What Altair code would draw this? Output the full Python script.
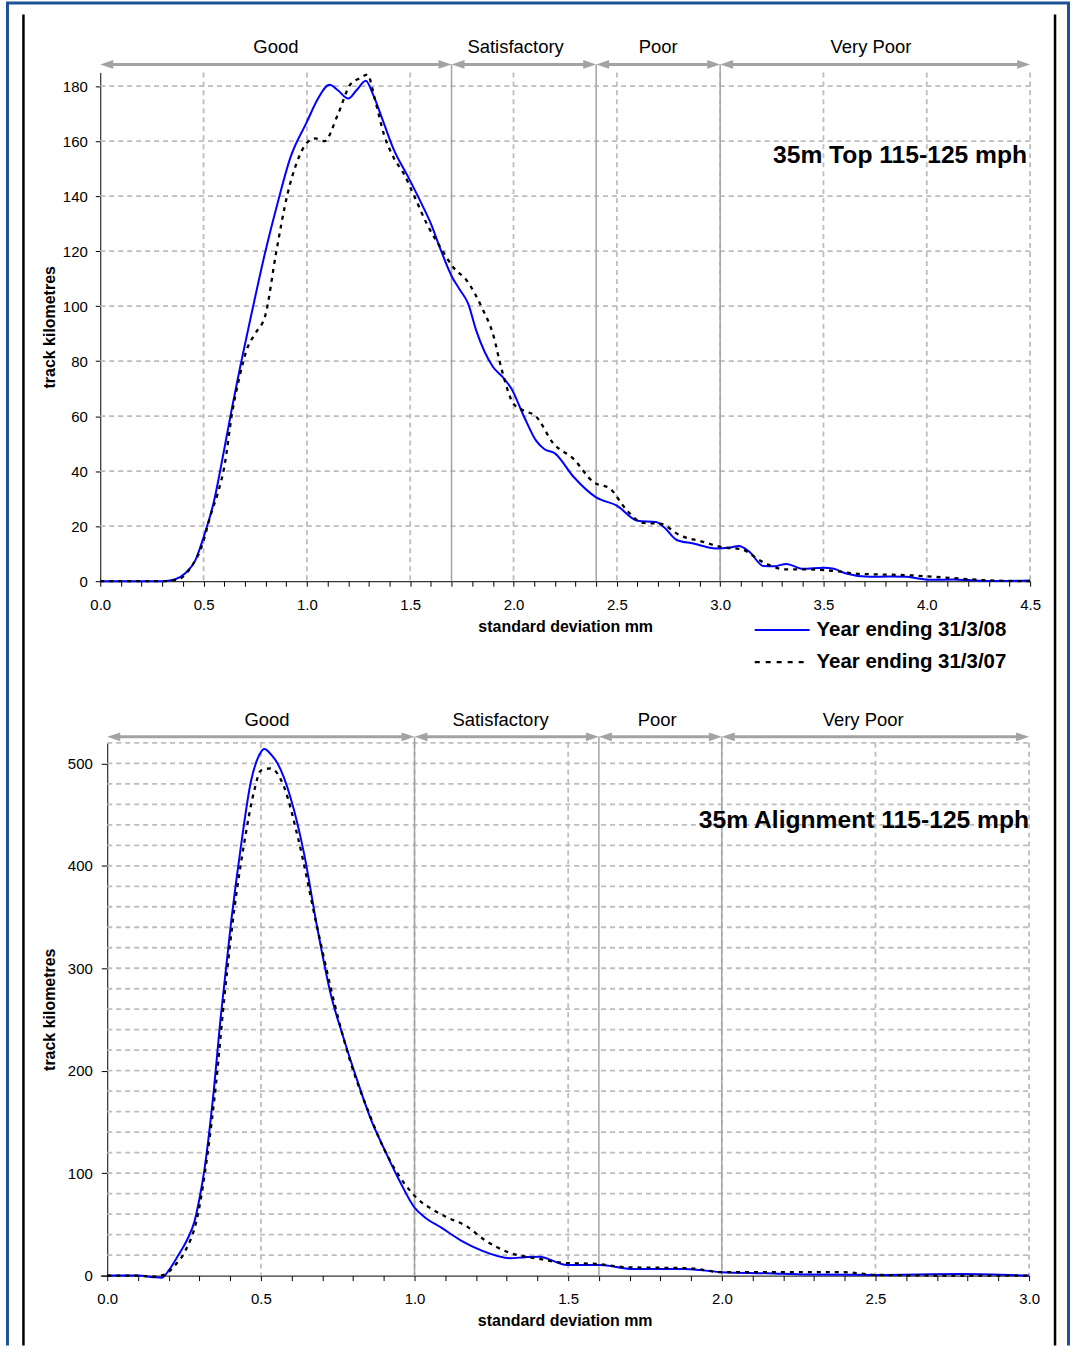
import altair as alt
import pandas as pd

# ---------------- data ----------------
series_names = ["Year ending 31/3/08", "Year ending 31/3/07"]
band_names = ["Good", "Satisfactory", "Poor", "Very Poor"]
panel_titles = ["35m Top 115-125 mph", "35m Alignment 115-125 mph"]
x_title = "standard deviation mm"
y_title = "track kilometres"

top_band_edges = [0.0, 1.7, 2.4, 3.0, 4.5]
bot_band_edges = [0.0, 1.0, 1.6, 2.0, 3.0]
# where the band names sit (in standard-deviation units)
top_band_label_at = [0.85, 2.01, 2.70, 3.73]
bot_band_label_at = [0.52, 1.28, 1.79, 2.46]

top_x_ticks = [round(i * 0.1, 1) for i in range(46)]
bot_x_ticks = [round(i * 0.1, 1) for i in range(31)]
top_y_ticks = [0, 20, 40, 60, 80, 100, 120, 140, 160, 180]
bot_y_ticks = [0, 100, 200, 300, 400, 500]
top_x_grid = [0.5, 1.0, 1.5, 2.0, 2.5, 3.0, 3.5, 4.0, 4.5]
bot_x_grid = [0.5, 1.0, 1.5, 2.0, 2.5, 3.0]
top_y_grid = [20, 40, 60, 80, 100, 120, 140, 160, 180]
bot_y_grid = list(range(20, 521, 20))

# 35m Top, year ending 31/3/08 (blue)
top08_x = [0.0, 0.2, 0.3, 0.36, 0.41, 0.46, 0.5, 0.55, 0.6, 0.64,
           0.68, 0.74, 0.79, 0.86, 0.92, 1.0, 1.05, 1.11, 1.15, 1.2,
           1.24, 1.285, 1.32, 1.37, 1.42, 1.49, 1.55, 1.6, 1.65, 1.7,
           1.74, 1.78, 1.82, 1.9, 1.95, 1.99, 2.05, 2.11, 2.15, 2.2,
           2.29, 2.4, 2.5, 2.6, 2.69, 2.73, 2.79, 2.87, 2.98, 3.05,
           3.09, 3.14, 3.21, 3.26, 3.32, 3.4, 3.5, 3.55, 3.61, 3.72,
           3.82, 3.9, 3.96, 4.02, 4.13, 4.2, 4.3, 4.4, 4.5]
top08_y = [0, 0, 0, 0.6, 2.8, 7.6, 16, 29, 48, 64,
           79, 100, 117, 138, 154, 167, 175, 180.5, 178.5, 175.5,
           178.5, 182, 177, 167, 157, 147, 138, 130, 120, 111,
           106, 101, 91, 78, 74, 70, 60, 51, 48, 46.5,
           38, 30.5, 27.5, 22, 21.5, 19.5, 15, 13.7, 11.9, 12.3,
           12.8, 10.8, 5.5, 5.4, 6.3, 4.5, 4.9, 4.5, 2.8, 1.6,
           1.7, 1.6, 1.0, 0.5, 0.6, 0.4, 0.1, 0.1, 0.3]

# 35m Top, year ending 31/3/07 (black dashed)
top07_x = [0.0, 0.2, 0.3, 0.375, 0.44, 0.49, 0.536, 0.568, 0.6, 0.64,
           0.673, 0.713, 0.75, 0.8, 0.85, 0.906, 0.95, 1.0, 1.04, 1.085,
           1.15, 1.21, 1.26, 1.293, 1.33, 1.373, 1.42, 1.47, 1.52, 1.58,
           1.647, 1.71, 1.775, 1.85, 1.9, 1.944, 2.0, 2.05, 2.105, 2.194,
           2.29, 2.387, 2.468, 2.548, 2.628, 2.709, 2.805, 2.918, 3.007, 3.1,
           3.21, 3.315, 3.413, 3.51, 3.674, 3.904, 4.133, 4.3, 4.5]
top07_y = [0, 0, 0, 0.6, 5.2, 12.4, 24.5, 31.8, 41.5, 62,
           74, 85, 90, 97, 119, 140.7, 152, 159.4, 161, 160,
           169.7, 180.6, 183, 184.2, 175, 162.4, 154, 148, 140, 130,
           121.3, 114, 109.2, 99, 90, 76.6, 64.5, 62, 60.2, 50,
           44.5, 36, 33.6, 25.8, 21.2, 20.9, 16.7, 14.3, 12.4, 11.7,
           6.8, 4.3, 4.3, 4.0, 2.7, 2.2, 1.1, 0.3, 0]

# 35m Alignment, year ending 31/3/08 (blue)
bot08_x = [0.0, 0.1, 0.15, 0.178, 0.2, 0.23, 0.26, 0.284, 0.3, 0.316,
           0.343, 0.37, 0.403, 0.435, 0.468, 0.49, 0.511, 0.535, 0.554, 0.597,
           0.64, 0.684, 0.727, 0.77, 0.813, 0.856, 0.9, 0.954, 1.0, 1.033,
           1.086, 1.153, 1.219, 1.312, 1.36, 1.405, 1.497, 1.603, 1.71, 1.88,
           2.0, 2.147, 2.28, 2.5, 2.78, 3.0]
bot08_y = [0, 0, -1.5, -2, 5, 19.3, 35, 53, 75, 103,
           170, 254.6, 345, 419, 483, 505, 514, 508, 500, 466,
           412.6, 338.7, 275, 231, 191, 154, 124.4, 90.8, 66.4, 57,
           47, 34, 24.4, 17, 18, 18.5, 10.4, 10.4, 6.5, 6.5,
           3.3, 2.3, 1, 0.7, 1.6, 0]

# 35m Alignment, year ending 31/3/07 (black dashed)
bot07_x = [0.0, 0.1, 0.15, 0.187, 0.22, 0.252, 0.295, 0.327, 0.354, 0.381,
           0.414, 0.446, 0.478, 0.5, 0.532, 0.576, 0.619, 0.684, 0.74, 0.792,
           0.85, 0.9, 0.965, 1.008, 1.062, 1.105, 1.166, 1.232, 1.305, 1.405,
           1.484, 1.59, 1.696, 1.895, 2.0, 2.4, 2.5, 2.81, 3.0]
bot07_y = [0, 0, -1, 1, 10, 23, 59.7, 120, 187.4, 271.4,
           358.8, 422.7, 473, 493, 495, 476.5, 429.4, 338.7, 265, 208,
           160, 124, 90.8, 75.6, 63.9, 57, 48.8, 34, 22.8, 16.3,
           12.4, 11.4, 8.1, 7.2, 3.3, 3.3, 0.7, 0, 0]

# ---------------- style ----------------
FONT = "Liberation Sans"
GRID = "#BDBDBD"
BAND = "#A3A3A3"
BLUE = "#0000FF"
FRAME_BLUE = "#1D5394"
LEFT_HEAD = "M0,0L1,-0.34L1,0.34Z"
RIGHT_HEAD = "M0,0L-1,-0.34L-1,0.34Z"
LABEL_EXPR = "abs(datum.value * 2 - round(datum.value * 2)) < 0.001 ? format(datum.value, '.1f') : ''"


def panel(x08, y08, x07, y07, edges, label_at, x_ticks, y_ticks, x_grid, y_grid,
          x_domain, y_domain, W, H, title, title_pos, arrow_y, band_y,
          y_axis_extra, tick_y, ylab_pad):
    xs = alt.Scale(domain=x_domain, nice=False, zero=False)
    ys = alt.Scale(domain=y_domain, nice=False, zero=False)

    xaxis = alt.Axis(
        values=x_ticks, labelExpr=LABEL_EXPR, grid=False, labelFlush=False, labelOverlap=False,
        domainColor="#000000", domainWidth=1, tickColor="#000000", tickSize=5, tickWidth=1,
        labelFont=FONT, labelFontSize=15, labelColor="#000000", labelPadding=11,
        titleFont=FONT, titleFontSize=16, titleFontWeight="bold", titleColor="#000000",
        titlePadding=6,
    )
    yaxis = alt.Axis(
        values=y_ticks, grid=False, labelOverlap=False,
        domainColor="#000000", domainWidth=1, tickColor="#000000", tickSize=tick_y, tickWidth=1,
        labelFont=FONT, labelFontSize=15, labelColor="#000000", labelPadding=ylab_pad,
        titleFont=FONT, titleFontSize=16, titleFontWeight="bold", titleColor="#000000",
        titleAngle=-90, titleAlign="center", titleBaseline="middle", titleY=H / 2,
        **y_axis_extra,
    )

    def X(field):
        return alt.X(field, scale=xs, axis=xaxis, title=x_title)

    def Y(field):
        return alt.Y(field, scale=ys, axis=yaxis, title=y_title)

    blue = alt.Chart(pd.DataFrame({"x": x08, "y": y08, "series": series_names[0]})).mark_line(
        color=BLUE, strokeWidth=2, interpolate="monotone"
    ).encode(x=X("x:Q"), y=Y("y:Q"))
    black = alt.Chart(pd.DataFrame({"x": x07, "y": y07, "series": series_names[1]})).mark_line(
        color="#000000", strokeWidth=2.3, strokeDash=[4, 5], interpolate="monotone"
    ).encode(x=X("x:Q"), y=Y("y:Q"))

    hgrid = alt.Chart(pd.DataFrame({"y": y_grid, "x0": edges[0], "x1": edges[-1]})).mark_rule(
        color=GRID, strokeWidth=1.8, strokeDash=[5, 4]
    ).encode(x=X("x0:Q"), x2="x1:Q", y=Y("y:Q"))
    vgrid = alt.Chart(pd.DataFrame({"x": x_grid})).mark_rule(
        color=GRID, strokeWidth=1.8, strokeDash=[5, 4]
    ).encode(x=X("x:Q"), y=alt.value(0), y2=alt.value(H))

    bands = pd.DataFrame({"band": band_names, "start": edges[:-1], "end": edges[1:],
                          "at": label_at})

    divider = alt.Chart(pd.DataFrame({"x": edges[1:-1]})).mark_rule(
        color=BAND, strokeWidth=1.5
    ).encode(x=X("x:Q"), y=alt.value(arrow_y), y2=alt.value(H))
    arrow = alt.Chart(bands).mark_rule(
        color=BAND, strokeWidth=3, xOffset=8, x2Offset=-8
    ).encode(x=X("start:Q"), x2="end:Q", y=alt.value(arrow_y))
    lhead = alt.Chart(bands).mark_point(
        shape=LEFT_HEAD, filled=True, size=676, color=BAND, opacity=1, strokeWidth=0
    ).encode(x=X("start:Q"), y=alt.value(arrow_y))
    rhead = alt.Chart(bands).mark_point(
        shape=RIGHT_HEAD, filled=True, size=676, color=BAND, opacity=1, strokeWidth=0
    ).encode(x=X("end:Q"), y=alt.value(arrow_y))
    blabels = alt.Chart(bands).mark_text(
        font=FONT, fontSize=18.5, baseline="alphabetic", align="center", color="black"
    ).encode(x=X("at:Q"), y=alt.value(band_y), text="band:N")

    ttl = alt.Chart(pd.DataFrame({"t": [title]})).mark_text(
        font=FONT, fontSize=24.7, fontWeight="bold", align="right", baseline="middle", color="#000000"
    ).encode(x=alt.value(title_pos[0]), y=alt.value(title_pos[1]), text="t:N")

    return [hgrid, vgrid, divider, arrow, lhead, rhead, blabels, blue, black, ttl]


# ---------------- top panel ----------------
TW, TH = 932, 510
top_layers = panel(top08_x, top08_y, top07_x, top07_y, top_band_edges, top_band_label_at,
                   top_x_ticks, top_y_ticks, top_x_grid, top_y_grid, [0.0, 4.5], [0, 185],
                   TW, TH, panel_titles[0], (929, 84), -8, -19, {"titleX": -51}, 5, 8)

one = pd.DataFrame({"k": [0]})
frame = [
    alt.Chart(one).mark_rule(color=FRAME_BLUE, strokeWidth=3).encode(
        x=alt.value(-93), y=alt.value(-69.5), y2=alt.value(1276)),
    alt.Chart(one).mark_rule(color=FRAME_BLUE, strokeWidth=3).encode(
        x=alt.value(970.5), y=alt.value(-69.5), y2=alt.value(1276)),
    alt.Chart(one).mark_rule(color=FRAME_BLUE, strokeWidth=3).encode(
        x=alt.value(-94.5), x2=alt.value(972), y=alt.value(-69.5)),
    alt.Chart(one).mark_rule(color="#000000", strokeWidth=2.5).encode(
        x=alt.value(-77), y=alt.value(-58), y2=alt.value(1276)),
    alt.Chart(one).mark_rule(color="#000000", strokeWidth=2.5).encode(
        x=alt.value(957), y=alt.value(-58), y2=alt.value(1276)),
]

leg08 = pd.DataFrame({"s": [series_names[0]]})
leg07 = pd.DataFrame({"s": [series_names[1]]})
legend = [
    alt.Chart(leg08).mark_rule(color=BLUE, strokeWidth=2).encode(
        x=alt.value(656), x2=alt.value(711), y=alt.value(559)),
    alt.Chart(leg07).mark_rule(color="#000000", strokeWidth=2.3, strokeDash=[5, 6]).encode(
        x=alt.value(656), x2=alt.value(708), y=alt.value(591)),
    alt.Chart(leg08).mark_text(font=FONT, fontSize=20.5, fontWeight="bold", align="left",
                               baseline="middle", color="#000000").encode(
        x=alt.value(718), y=alt.value(559), text="s:N"),
    alt.Chart(leg07).mark_text(font=FONT, fontSize=20.5, fontWeight="bold", align="left",
                               baseline="middle", color="#000000").encode(
        x=alt.value(718), y=alt.value(591), text="s:N"),
]

top = alt.layer(*(top_layers + frame + legend)).properties(width=TW, height=TH)

# ---------------- bottom panel ----------------
BW, BH = 931, 534
bot_left = -7.0 / 308.0
bot_layers = panel(bot08_x, bot08_y, bot07_x, bot07_y, bot_band_edges, bot_band_label_at,
                   bot_x_ticks, bot_y_ticks, bot_x_grid, bot_y_grid, [bot_left, 3.0], [0, 520],
                   BW, BH, panel_titles[1], (931, 78), -6, -17,
                   {"titleX": -58, "offset": -7}, 6, 9)
bottom = alt.layer(*bot_layers).properties(width=BW, height=BH)

chart = alt.vconcat(top, bottom, spacing=162, bounds="flush").properties(
    padding={"left": 4.5, "top": 0, "right": 0, "bottom": 0},
    background="white",
).configure_view(strokeWidth=0)

chart.save("out.html", embed_options={"renderer": "svg", "actions": False})
